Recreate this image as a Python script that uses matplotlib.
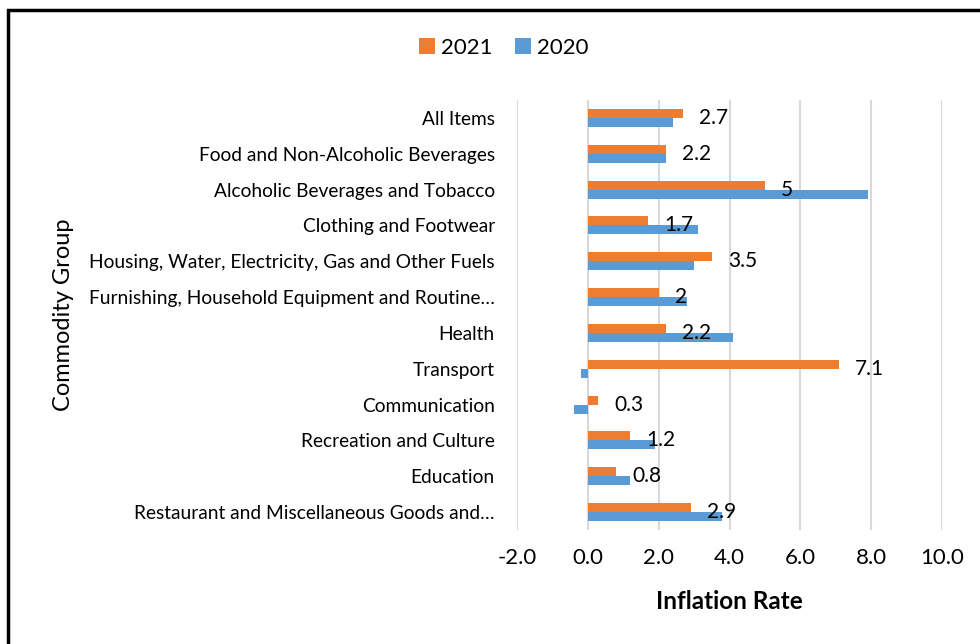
import numpy as np
import matplotlib
matplotlib.use("Agg")
import matplotlib.pyplot as plt
from matplotlib.patches import Rectangle

plt.rcParams['font.family'] = ['Lato', 'DejaVu Sans']

categories = [
    "All Items",
    "Food and Non-Alcoholic Beverages",
    "Alcoholic Beverages and Tobacco",
    "Clothing and Footwear",
    "Housing, Water, Electricity, Gas and Other Fuels",
    "Furnishing, Household Equipment and Routine\u2026",
    "Health",
    "Transport",
    "Communication",
    "Recreation and Culture",
    "Education",
    "Restaurant and Miscellaneous Goods and\u2026",
]
rate_2021 = [2.7, 2.2, 5.0, 1.7, 3.5, 2.0, 2.2, 7.1, 0.3, 1.2, 0.8, 2.9]
rate_2020 = [2.4, 2.2, 7.9, 3.1, 3.0, 2.8, 4.1, -0.2, -0.4, 1.9, 1.2, 3.8]
label_2021 = ["2.7", "2.2", "5", "1.7", "3.5", "2", "2.2", "7.1", "0.3", "1.2", "0.8", "2.9"]
xticks = [-2, 0, 2, 4, 6, 8, 10]

orange = "#ED7D31"
blue = "#5B9BD5"

fig = plt.figure(figsize=(9.8, 6.44), dpi=100)
ax = fig.add_axes([517/980, 1 - 530/644, (942 - 517)/980, 430/644])

y = np.arange(len(categories))
h = 0.25
b21 = ax.barh(y - h/2, rate_2021, height=h, color=orange, label="2021", zorder=3)
b20 = ax.barh(y + h/2, rate_2020, height=h, color=blue, label="2020", zorder=3)

for yi, v, s in zip(y, rate_2021, label_2021):
    ax.annotate(s, (v, yi), xytext=(11.5, 0), textcoords="offset points",
                va="center", ha="left", fontsize=15, color="#000000", zorder=4)

ax.set_xlim(-2, 10)
ax.set_ylim(len(categories) - 0.5, -0.5)
ax.set_xticks(xticks)
ax.set_xticklabels(["%.1f" % t for t in xticks], fontsize=16)
ax.set_yticks(y)
ax.set_yticklabels(categories, fontsize=13.8)
ax.tick_params(axis="both", length=0)
ax.tick_params(axis="y", pad=16)
ax.tick_params(axis="x", pad=13)
ax.grid(axis="x", color="#D9D9D9", linewidth=1.5, zorder=0)
for sp in ax.spines.values():
    sp.set_visible(False)

ax.set_xlabel("Inflation Rate", fontsize=17.5, fontweight="bold", labelpad=16)
fig.text(63/980, 1 - 315/644, "Commodity Group", rotation=90, fontsize=17,
         ha="center", va="center")

fig.legend(handles=[b21, b20], labels=["2021", "2020"], loc="center",
           bbox_to_anchor=(504/980, 1 - 48/644), ncol=2, frameon=False,
           fontsize=16, handlelength=0.7, handleheight=0.7,
           handletextpad=0.3, columnspacing=1.0)

fig.patches.append(Rectangle((8/980, -0.1), 1.2, 1.1 - 10/644, transform=fig.transFigure,
                             fill=False, edgecolor="black", linewidth=2.5))

fig.savefig("out.png", dpi=100, facecolor="white")
